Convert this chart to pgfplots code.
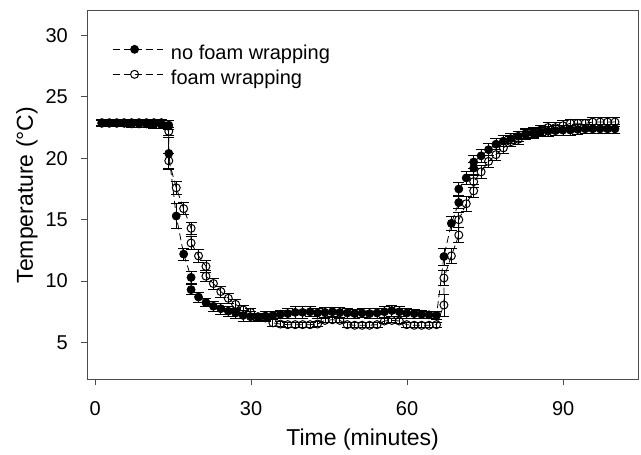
\documentclass[border=0pt]{standalone}
\usepackage{fontspec}
\setmainfont{Liberation Sans}
\usepackage{pgfplots}
\usepackage{pgfplotstable}
\pgfplotsset{compat=1.18}

% time (min), temperature (C), error
\pgfplotstableread{
t T e
1.30 22.85 0.25
2.73 22.85 0.25
4.16 22.85 0.25
5.59 22.85 0.25
7.02 22.8 0.25
8.45 22.8 0.3
9.88 22.8 0.3
11.31 22.75 0.35
12.74 22.75 0.35
14.17 22.7 0.35
14.17 20.4 1.3
15.60 15.3 1.0
17.03 12.2 0.5
18.46 10.3 0.5
18.46 9.3 0.4
19.89 8.7 0.4
21.32 8.25 0.35
22.75 7.95 0.4
24.18 7.75 0.45
25.61 7.55 0.4
27.04 7.4 0.4
28.47 7.2 0.45
29.90 7.1 0.4
31.33 7.05 0.35
32.76 7.15 0.35
34.19 7.2 0.35
35.62 7.3 0.35
37.05 7.35 0.4
38.48 7.45 0.45
39.91 7.45 0.45
41.34 7.5 0.4
42.77 7.4 0.4
44.20 7.45 0.4
45.63 7.5 0.35
47.06 7.45 0.4
48.49 7.4 0.4
49.92 7.35 0.35
51.35 7.4 0.35
52.78 7.35 0.4
54.21 7.4 0.4
55.64 7.5 0.45
57.07 7.6 0.45
58.50 7.5 0.4
59.93 7.4 0.4
61.36 7.35 0.35
62.79 7.3 0.3
64.22 7.25 0.3
65.65 7.2 0.3
67.08 12.0 0.7
68.51 14.7 0.6
69.94 16.4 0.5
69.94 17.5 0.5
71.37 18.4 0.5
72.80 19.2 0.5
72.80 19.7 0.5
74.23 20.2 0.5
75.66 20.7 0.5
77.09 21.15 0.45
78.52 21.4 0.45
79.95 21.6 0.4
81.38 21.8 0.4
82.81 21.95 0.4
84.24 22.05 0.4
85.67 22.15 0.4
87.10 22.2 0.4
88.53 22.25 0.4
89.96 22.3 0.4
91.39 22.3 0.4
92.82 22.35 0.4
94.25 22.4 0.35
95.68 22.4 0.35
97.11 22.4 0.35
98.54 22.4 0.35
99.97 22.4 0.35
}\nofoam

\pgfplotstableread{
t T e
1.30 22.9 0.25
2.73 22.9 0.25
4.16 22.9 0.25
5.59 22.9 0.25
7.02 22.9 0.25
8.45 22.9 0.25
9.88 22.9 0.25
11.31 22.9 0.25
12.74 22.9 0.25
14.17 22.2 0.35
14.17 19.8 0.6
15.60 17.6 0.5
17.03 15.9 0.5
18.46 14.3 0.5
18.46 13.1 0.5
19.89 12.05 0.5
21.32 11.2 0.5
21.32 10.4 0.45
22.75 9.8 0.45
24.18 9.15 0.45
25.61 8.6 0.4
27.04 8.1 0.4
28.47 7.65 0.4
29.90 7.45 0.3
31.33 7.1 0.3
32.76 7.0 0.3
34.19 6.6 0.3
35.62 6.5 0.2
37.05 6.45 0.2
38.48 6.45 0.2
39.91 6.45 0.2
41.34 6.45 0.2
42.77 6.5 0.2
44.20 6.8 0.2
45.63 6.85 0.2
47.06 6.8 0.2
48.49 6.45 0.2
49.92 6.4 0.2
51.35 6.4 0.2
52.78 6.4 0.2
54.21 6.45 0.2
55.64 6.75 0.2
57.07 6.8 0.2
58.50 6.75 0.2
59.93 6.45 0.2
61.36 6.4 0.2
62.79 6.4 0.2
64.22 6.4 0.2
65.65 6.45 0.2
67.08 8.05 0.9
67.08 10.25 0.6
68.51 12.05 0.6
69.94 13.75 0.6
69.94 15.0 0.6
71.37 16.3 0.6
72.80 17.35 0.5
72.80 18.1 0.5
74.23 18.9 0.5
75.66 19.75 0.5
77.09 20.3 0.45
78.52 20.85 0.45
79.95 21.35 0.4
81.38 21.55 0.4
82.81 22.0 0.4
84.24 22.1 0.4
85.67 22.3 0.4
87.10 22.5 0.4
88.53 22.5 0.4
89.96 22.65 0.4
91.39 22.85 0.35
92.82 22.85 0.35
94.25 22.85 0.35
95.68 22.95 0.35
97.11 22.95 0.35
98.54 22.95 0.35
99.97 22.95 0.35
}\foam

\begin{document}
\begin{tikzpicture}
\begin{axis}[
  at={(0,0)}, anchor=south west,
  scale only axis, width=550.7bp, height=368.3bp,
  xmin=-1.5, xmax=104.4, ymin=2, ymax=32,
  xtick={0,30,60,90}, ytick={5,10,...,30},
  tick align=outside, xtick pos=bottom, ytick pos=left,
  major tick length=6bp,
  axis line style={black!70, line width=1bp},
  every tick/.style={black!70, line width=1bp},
  /pgf/number format/assume math mode=true,
  tick label style={font=\fontsize{20bp}{24bp}\selectfont, inner sep=0pt},
  xticklabel style={anchor=base, yshift=-30.2bp},
  yticklabel style={anchor=east, xshift=-13.3bp},
  label style={font=\fontsize{23bp}{27bp}\selectfont},
  xlabel={Time (minutes)},
  ylabel={Temperature (°C)},
  xlabel style={at={(axis description cs:0.5,-0.1811)}, anchor=base},
  ylabel style={at={(axis description cs:-0.0986,0.5)}, anchor=base},
  legend style={draw=none, fill=none, inner sep=0pt,
    at={(axis description cs:0.0448,0.91)}, anchor=north west,
    font=\fontsize{20bp}{24bp}\selectfont, row sep=5bp,
    nodes={inner sep=0pt, text height=15bp, text depth=5bp},
    /tikz/every odd column/.append style={column sep=8bp}},
  legend cell align=left,
  legend image code/.code={
    \draw[mark repeat=2, mark phase=2, #1] plot coordinates {(0bp,5bp) (22bp,5bp) (50bp,5bp)};
  },
  error bars/y dir=both, error bars/y explicit,
  error bars/error bar style={black, line width=0.8bp, solid},
  error bars/error mark options={rotate=90, black, line width=0.8bp, mark size=5.5bp, solid},
]
\addplot[black, line width=0.8bp, dash pattern=on 7bp off 4bp,
  mark=*, mark size=4bp, mark options={solid, fill=black}]
  table[x=t, y=T, y error=e] {\nofoam};
\addlegendentry{no foam wrapping}
\addplot[black, line width=0.8bp, dash pattern=on 7bp off 4bp,
  mark=o, mark size=4bp, mark options={solid, fill=white, line width=1bp}]
  table[x=t, y=T, y error=e] {\foam};
\addlegendentry{foam wrapping}
\end{axis}
\path (-87.3bp,-74.7bp) rectangle (553.7bp,379.3bp);
\end{tikzpicture}
\end{document}
